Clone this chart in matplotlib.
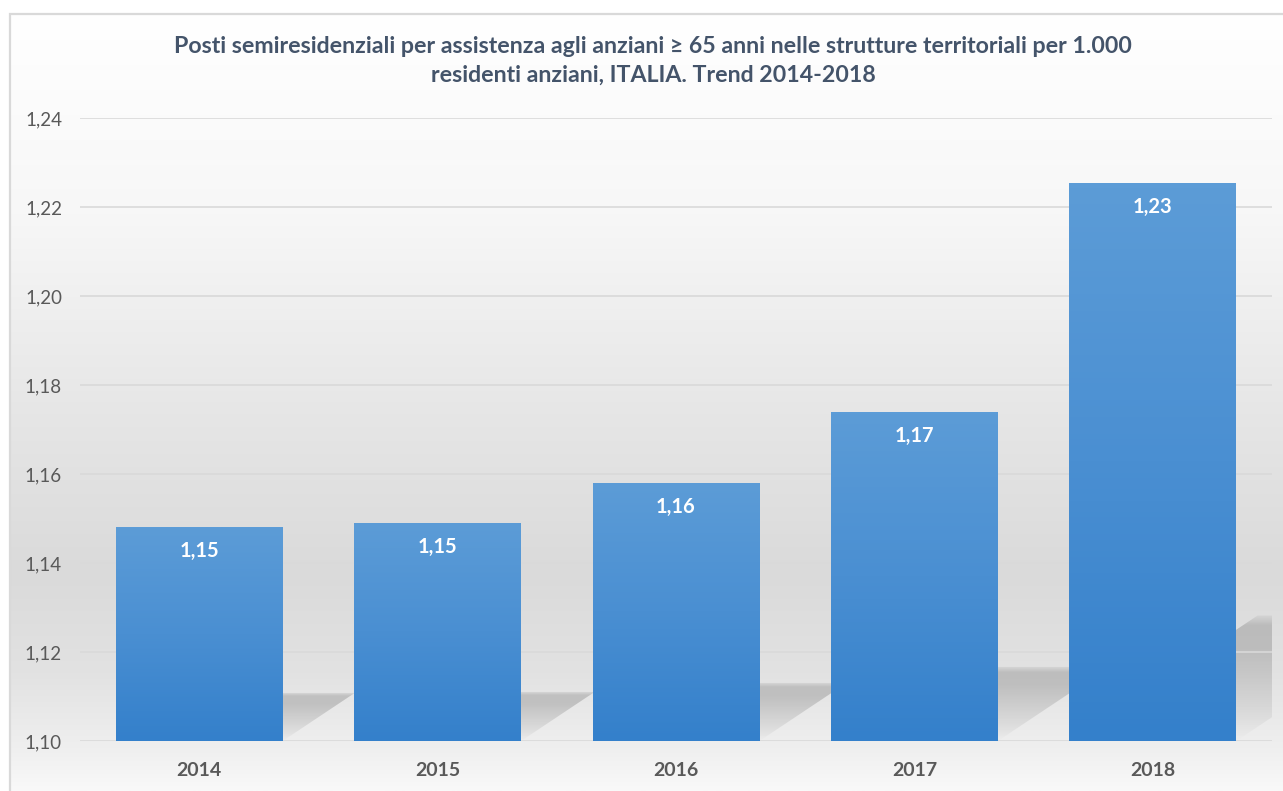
import numpy as np
import matplotlib
matplotlib.use('Agg')
import matplotlib.pyplot as plt
from matplotlib.patches import Polygon, Rectangle
from matplotlib.colors import LinearSegmentedColormap

plt.rcParams['font.family'] = ['Lato', 'DejaVu Sans']

# dati
anni = ['2014', '2015', '2016', '2017', '2018']
valori = [1.148, 1.149, 1.158, 1.174, 1.2254]
tick_y = [1.10, 1.12, 1.14, 1.16, 1.18, 1.20, 1.22, 1.24]
titolo = ('Posti semiresidenziali per assistenza agli anziani \u2265 65 anni nelle strutture territoriali per 1.000\n'
          'residenti anziani, ITALIA. Trend 2014-2018')

W, H = 1283, 791
fig = plt.figure(figsize=(W / 100, H / 100), dpi=100)
fig.patch.set_facecolor('white')

# sfondo sfumato dietro al grafico
bg = fig.add_axes([10 / W, 0, 1 - 10 / W, 1 - 14 / H], zorder=-2)
prof_y = [0, 200, 400, 560, 660, 740, 777]
prof_c = [255, 247, 230, 218, 226, 240, 249]
yy = np.linspace(0, 777, 400)
col = np.interp(yy, prof_y, prof_c) / 255.0
bg.imshow(np.repeat(col[:, None], 2, axis=1)[:, :, None].repeat(3, axis=2),
          aspect='auto', extent=[0, 1, 0, 1], origin='upper')
bg.set_xlim(0, 1)
bg.set_ylim(0, 1)
bg.axis('off')
fig.add_artist(Rectangle((10 / W, -0.1), 1.2, 1.1 - 14 / H, transform=fig.transFigure,
                         fill=False, edgecolor='#d9d9d9', linewidth=1.6, zorder=5))

ax = fig.add_axes([80 / W, 1 - 741 / H, (1272 - 80) / W, (741 - 118) / H])
ax.set_facecolor('none')
ax.set_xlim(-0.5, 4.5)
ax.set_ylim(1.10, 1.24)

x = np.arange(len(anni))
larg = 0.7
for t in tick_y:
    ax.axhline(t, color='#d9d9d9', linewidth=1.2, zorder=1)

# ombre prospettiche (copia inclinata della barra, piu bassa)
px_x = (1272 - 80) / 5.0
px_y = (741 - 118) / 0.14
fr = np.linspace(1, 0, 200)
alpha = np.interp(fr, [0, 0.2, 0.75, 0.92, 1.0], [0.0, 0.14, 0.42, 0.42, 0.1])
rgba = np.zeros((200, 1, 4))
rgba[..., :3] = 0.55
rgba[:, 0, 3] = alpha
for xi, v in zip(x, valori):
    h = (v - 1.10) * 0.225
    dx = 1.5 * h * px_y / px_x
    pts = [(xi - larg / 2, 1.10), (xi + larg / 2, 1.10),
           (xi + larg / 2 + dx, 1.10 + h), (xi - larg / 2 + dx, 1.10 + h)]
    poly = Polygon(pts, closed=True, facecolor='none', edgecolor='none')
    ax.add_patch(poly)
    im = ax.imshow(rgba, aspect='auto',
                   extent=[xi - larg / 2, min(xi + larg / 2 + dx, 4.5), 1.10, 1.10 + h],
                   origin='upper', zorder=0.8)
    im.set_clip_path(poly)

# barre con sfumatura
barre = ax.bar(x, [v - 1.10 for v in valori], bottom=1.10, width=larg,
               color='none', edgecolor='none', zorder=2)
blu = LinearSegmentedColormap.from_list('blu', ['#3480cb', '#4a8fd2', '#5c9cd7'])
for b in barre:
    x0, y0 = b.get_x(), b.get_y()
    im = ax.imshow(np.linspace(1, 0, 100)[:, None], cmap=blu, aspect='auto',
                   extent=[x0, x0 + b.get_width(), y0, y0 + b.get_height()],
                   origin='upper', zorder=2)
    im.set_clip_path(b)

for xi, v in zip(x, valori):
    ax.text(xi, v - 0.0054, f'{v:.2f}'.replace('.', ','), ha='center', va='center',
            color='white', fontsize=14.5, fontweight='bold', zorder=3)

ax.set_xlim(-0.5, 4.5)
ax.set_ylim(1.10, 1.24)
ax.set_xticks(x)
ax.set_xticklabels(anni, fontsize=14, fontweight='bold', color='#595959')
ax.set_yticks(tick_y)
ax.set_yticklabels([f'{t:.2f}'.replace('.', ',') for t in tick_y], fontsize=13.5, color='#595959')
ax.tick_params(axis='both', length=0)
ax.tick_params(axis='x', pad=15)
ax.tick_params(axis='y', pad=13)
for s in ax.spines.values():
    s.set_visible(False)

fig.text(653 / W, 1 - 61 / H, titolo, ha='center', va='center', fontsize=16.7,
         fontweight='bold', color='#44546a', linespacing=1.42)

fig.savefig('out.png', dpi=100)
